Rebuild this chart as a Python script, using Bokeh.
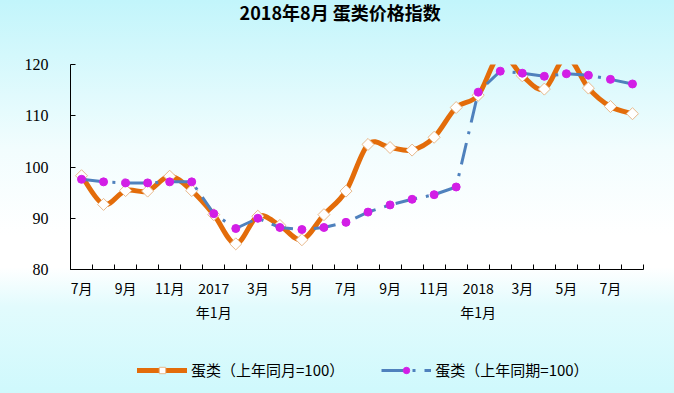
import numpy as np
from bokeh.plotting import figure
from bokeh.layouts import column
from bokeh.models import FixedTicker, Label, Legend, LegendItem, ColumnDataSource
from bokeh.embed import file_html
from bokeh.resources import INLINE

# ---------------- data ----------------
months = ["2016-07", "2016-08", "2016-09", "2016-10", "2016-11", "2016-12",
          "2017-01", "2017-02", "2017-03", "2017-04", "2017-05", "2017-06",
          "2017-07", "2017-08", "2017-09", "2017-10", "2017-11", "2017-12",
          "2018-01", "2018-02", "2018-03", "2018-04", "2018-05", "2018-06",
          "2018-07", "2018-08"]
yoy_month = [98.3, 92.7, 95.4, 95.3, 98.2, 95.4, 90.7, 85.0, 90.4, 88.6,
             85.8, 90.7, 95.3, 104.4, 103.8, 103.3, 105.8, 111.6, 114.0, 122.0,
             117.8, 115.2, 121.5, 115.4, 111.8, 110.4]
yoy_period = [97.6, 97.1, 96.9, 96.9, 97.1, 97.1, 90.9, 88.0, 90.0, 88.2,
              87.8, 88.2, 89.2, 91.2, 92.6, 93.7, 94.6, 96.1, 114.6, 118.7,
              118.3, 117.7, 118.2, 117.9, 117.1, 116.2]
tick_pos = [0, 2, 4, 6, 8, 10, 12, 14, 16, 18, 20, 22, 24]
tick_text = ["7月", "9月", "11月", "2017\n年1月", "3月", "5月", "7月", "9月",
             "11月", "2018\n年1月", "3月", "5月", "7月"]
y_ticks = [80, 90, 100, 110, 120]
series_names = ["蛋类（上年同月=100）", "蛋类（上年同期=100）"]
title_text = "2018年8月 蛋类价格指数"

CJK = "Noto Sans CJK SC"
ORANGE = "#E36C0A"
BLUE = "#4F81BD"
MAGENTA = "#D21EE6"
DIAMOND_EDGE = "#E8B98C"
BG = ("linear-gradient(to bottom, #c2f5fb 0%, #f2fdfe 38%, #ffffff 60%, "
      "#ffffff 68%, #e2fbfd 78%, #cff9fc 100%)")

n = len(months)
xs = np.arange(n, dtype=float)


def strip(h):
    f = figure(width=674, height=h, output_backend="svg", toolbar_location=None,
               min_border_left=70, min_border_right=31, min_border_top=0,
               min_border_bottom=0, x_range=(0, 1), y_range=(0, 1))
    f.background_fill_color = None
    f.border_fill_color = None
    f.outline_line_color = None
    f.axis.visible = False
    f.grid.visible = False
    return f


# ---------------- title strip ----------------
top = strip(30)
top.add_layout(Label(x=269.7, y=18.5, x_units="screen", y_units="screen",
                     text=title_text, text_align="center", text_baseline="middle",
                     text_font=CJK, text_font_size="18px", text_font_style="bold",
                     text_color="black"))

# ---------------- main plot ----------------
p = figure(width=674, height=310, output_backend="svg", toolbar_location=None,
           x_range=(-0.5, n - 0.5), y_range=(80, 120),
           min_border_left=70, min_border_right=31, min_border_top=34,
           min_border_bottom=71)
p.background_fill_color = None
p.border_fill_color = None
p.outline_line_color = None
p.xgrid.visible = False
p.ygrid.visible = False

xa = p.xaxis[0]
xa.ticker = FixedTicker(ticks=tick_pos, minor_ticks=list(np.arange(-0.5, n, 1.0)))
xa.major_label_overrides = {k: v for k, v in zip(tick_pos, tick_text)}
xa.major_tick_in = 0
xa.major_tick_out = 0
xa.minor_tick_in = 5
xa.minor_tick_out = 0
xa.axis_line_color = "black"
xa.minor_tick_line_color = "black"
xa.major_label_text_font = CJK
xa.major_label_text_font_size = "14px"
xa.major_label_text_color = "black"
xa.major_label_standoff = 8

ya = p.yaxis[0]
ya.ticker = FixedTicker(ticks=y_ticks)
ya.major_tick_in = 5
ya.major_tick_out = 0
ya.minor_tick_line_color = None
ya.axis_line_color = "black"
ya.major_tick_line_color = "black"
ya.major_label_text_font = "Liberation Serif"
ya.major_label_text_font_size = "16px"
ya.major_label_text_color = "black"
ya.major_label_standoff = 22

# smoothed orange curve (cubic Bezier through the data points)
yv = np.array(yoy_month, dtype=float)
x0, y0, x1, y1, cx0, cy0, cx1, cy1 = ([] for _ in range(8))
for i in range(n - 1):
    ip = max(i - 1, 0)
    inx = min(i + 2, n - 1)
    x0.append(xs[i]); y0.append(yv[i])
    x1.append(xs[i + 1]); y1.append(yv[i + 1])
    cx0.append(xs[i] + (xs[i + 1] - xs[ip]) / 6.0)
    cy0.append(yv[i] + (yv[i + 1] - yv[ip]) / 6.0)
    cx1.append(xs[i + 1] - (xs[inx] - xs[i]) / 6.0)
    cy1.append(yv[i + 1] - (yv[inx] - yv[i]) / 6.0)
p.bezier(x0=x0, y0=y0, x1=x1, y1=y1, cx0=cx0, cy0=cy0, cx1=cx1, cy1=cy1,
         line_color=ORANGE, line_width=5, line_cap="round")
p.scatter(xs, yoy_month, marker="square", angle=np.pi / 4, size=8.5,
          fill_color="white", line_color=DIAMOND_EDGE, line_width=1)

src2 = ColumnDataSource(dict(x=xs, y=yoy_period))
p.line("x", "y", source=src2, line_color=BLUE, line_width=3, line_dash="22 9 3 9")
p.scatter("x", "y", source=src2, marker="circle", size=8,
          fill_color=MAGENTA, line_color=MAGENTA)

# ---------------- legend strip ----------------
lg = strip(53)
# legend-only renderers, placed outside the strip's visible range
l1 = lg.line(x=[-5, -4], y=[-5, -5], line_color=ORANGE, line_width=5, line_cap="round")
s1 = lg.scatter(x=[-5], y=[-5], marker="square", angle=np.pi / 4, size=8,
                fill_color="white", line_color=DIAMOND_EDGE, line_width=1)
l2 = lg.line(x=[-5, -4], y=[-5, -5], line_color=BLUE, line_width=3, line_dash="22 9 3 9")
s2 = lg.scatter(x=[-5], y=[-5], marker="circle", size=8,
                fill_color=MAGENTA, line_color=MAGENTA)
legend = Legend(items=[LegendItem(label=series_names[0], renderers=[l1, s1]),
                       LegendItem(label=series_names[1], renderers=[l2, s2])],
                orientation="horizontal", location=(67, 13), padding=0, margin=0,
                spacing=37, label_standoff=4, glyph_width=50, glyph_height=16,
                label_height=16, label_text_font=CJK, label_text_font_size="15px",
                label_text_color="black", background_fill_alpha=0,
                border_line_color=None)
lg.add_layout(legend, "center")

layout = column(top, p, lg, spacing=0, styles={"background": BG})

open("out.html", "w").write(file_html(layout, INLINE))
